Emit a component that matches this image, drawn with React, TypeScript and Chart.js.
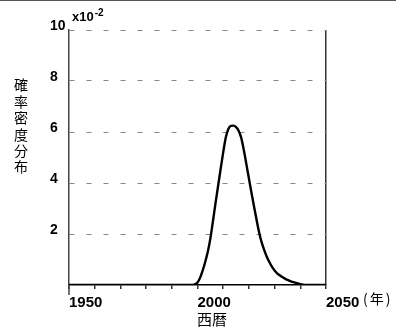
import React, { useEffect, useRef } from 'react';
import { Chart, registerables } from 'chart.js';

Chart.register(...registerables);

// Year (西暦) and probability density (in units of 10^-2)
const years = [
  1950, 1997, 1998, 1999, 2000, 2001, 2002, 2003, 2004, 2005, 2006, 2007, 2008, 2009,
  2010, 2011, 2012, 2013, 2014, 2015, 2016, 2017, 2018, 2019, 2020, 2021, 2022, 2023,
  2024, 2025, 2026, 2027, 2028, 2029, 2030, 2031, 2032, 2033, 2034, 2035, 2036, 2037,
  2038, 2039, 2040, 2041, 2042, 2050,
];
const density = [
  0, 0, 0.005, 0.03, 0.1, 0.28, 0.56, 0.9, 1.3, 1.82, 2.5, 3.2, 3.88, 4.55,
  5.2, 5.78, 6.12, 6.24, 6.25, 6.19, 6.05, 5.78, 5.3, 4.75, 4.18, 3.62, 3.08, 2.55,
  2.05, 1.66, 1.36, 1.1, 0.89, 0.71, 0.57, 0.46, 0.38, 0.31, 0.25, 0.2, 0.16, 0.12,
  0.09, 0.06, 0.03, 0.01, 0, 0,
];
const labeledYears = [1950, 2000, 2050];
const yTickStep = 2;
const yMax = 10;
const yTitle = '確率密度分布';
const xTitle = '西暦';
const unitLabel = '(年)';
const scaleBase = 'x10';
const scaleExp = '-2';

const LATIN = '"Liberation Sans", Arial, sans-serif';
const CJK = '"Noto Sans CJK JP", "Noto Sans", sans-serif';

const extrasPlugin = {
  id: 'extras',
  afterDraw(chart: any) {
    const { ctx, chartArea } = chart;
    ctx.save();
    // top frame line of the picture
    ctx.strokeStyle = '#555';
    ctx.lineWidth = 1;
    ctx.beginPath();
    ctx.moveTo(0, 0.5);
    ctx.lineTo(chart.width, 0.5);
    ctx.stroke();
    // longer tick at 1950
    ctx.strokeStyle = '#444';
    ctx.lineWidth = 1.5;
    ctx.beginPath();
    ctx.moveTo(chartArea.left, chartArea.bottom);
    ctx.lineTo(chartArea.left, chartArea.bottom + 10);
    ctx.stroke();

    ctx.fillStyle = '#000';
    ctx.textAlign = 'left';
    ctx.textBaseline = 'alphabetic';
    ctx.font = 'bold 13px ' + LATIN;
    ctx.fillText(scaleBase, chartArea.left + 3, 21);
    const w = ctx.measureText(scaleBase).width;
    ctx.font = 'bold 10px ' + LATIN;
    ctx.fillText(scaleExp, chartArea.left + 3 + w + 1, 16);

    ctx.font = '14px ' + CJK;
    ctx.textAlign = 'center';
    ctx.textBaseline = 'middle';
    Array.from(yTitle).forEach((c, i) => ctx.fillText(c, 21, 85 + i * 16.4));

    ctx.textAlign = 'left';
    ctx.font = '15px ' + CJK;
    ctx.fillText(xTitle, 197, 319);
    ctx.font = '14px ' + CJK;
    try {
      (ctx as any).letterSpacing = '2px';
    } catch (e) {}
    ctx.fillText(unitLabel, 363, 299);
    ctx.restore();
  },
};

export default function App() {
  const ref = useRef<HTMLCanvasElement | null>(null);
  useEffect(() => {
    if (!ref.current) return;
    const chart = new Chart(ref.current, {
      type: 'line',
      data: {
        datasets: [
          {
            data: years.map((y, i) => ({ x: y, y: density[i] })),
            borderColor: '#000',
            borderWidth: 2.4,
            pointRadius: 0,
            fill: false,
            cubicInterpolationMode: 'monotone',
          },
        ],
      },
      options: {
        responsive: false,
        animation: false,
        events: [],
        layout: { padding: { left: 50, right: 70, top: 30, bottom: 0 } },
        plugins: { legend: { display: false }, tooltip: { enabled: false } },
        scales: {
          x: {
            type: 'linear',
            min: 1950,
            max: 2050,
            afterFit: (s: any) => {
              s.height = 47;
            },
            ticks: {
              stepSize: 10,
              autoSkip: false,
              maxRotation: 0,
              align: 'start',
              padding: 5,
              color: '#000',
              font: { family: LATIN, size: 15, weight: 'bold' },
              callback: (v: any) => (labeledYears.includes(Number(v)) ? String(v) : ''),
            },
            grid: {
              drawOnChartArea: true,
              drawTicks: true,
              tickLength: 4,
              color: (c: any) => (c.tick && c.tick.value === 2050 ? '#333' : 'rgba(0,0,0,0)'),
              tickColor: '#333',
              lineWidth: 1.5,
            },
            border: { display: true, color: '#000', width: 1.5 },
          },
          y: {
            min: 0,
            max: yMax,
            afterFit: (s: any) => {
              s.width = 19;
            },
            ticks: {
              stepSize: yTickStep,
              crossAlign: 'far',
              labelOffset: -4,
              color: '#000',
              font: { family: LATIN, size: 14, weight: 'bold' },
              callback: (v: any) => (Number(v) === 0 ? '' : String(v)),
            },
            grid: {
              drawTicks: false,
              color: (c: any) => (c.tick && c.tick.value === 0 ? 'rgba(0,0,0,0)' : '#888'),
              lineWidth: 1,
            },
            border: { display: true, color: '#444', width: 1.5, dash: [5, 12] },
          },
        },
      },
      plugins: [extrasPlugin],
    } as any);
    return () => chart.destroy();
  }, []);
  return (
    <div style={{ position: 'absolute', left: 0, top: 0, width: 396, height: 332, background: '#fff' }}>
      <canvas ref={ref} width={396} height={332} style={{ display: 'block' }} />
    </div>
  );
}
